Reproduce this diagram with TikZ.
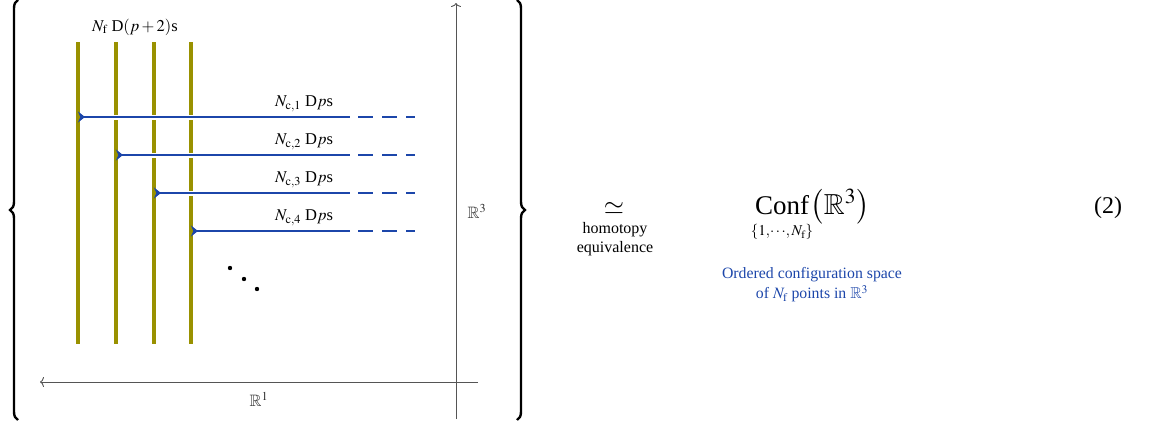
\documentclass[tikz,border=0pt]{standalone}
\usepackage{mathptmx}
\usepackage{amssymb}
\usepackage{fontspec}
\setmainfont{Liberation Serif}
\usetikzlibrary{arrows.meta,decorations.pathreplacing}
\definecolor{braneolive}{RGB}{153,145,0}
\definecolor{cblue}{RGB}{28,70,170}
\definecolor{axisgray}{RGB}{85,85,85}
\definecolor{labelgray}{RGB}{50,50,50}
\tikzset{
  bigbrace/.style={decorate,decoration={brace,amplitude=8pt},line width=2.4pt,black},
  axisline/.style={draw=axisgray,line width=0.9pt},
  branestyle/.style={draw=braneolive,line width=4pt},
  stringstyle/.style={draw=cblue,line width=1.8pt},
  stringgap/.style={draw=white,line width=5pt},
  stringdash/.style={draw=cblue,line width=1.8pt,dash pattern=on 15pt off 9pt},
  smalltext/.style={font=\fontsize{16.5}{19}\selectfont,inner sep=0pt},
  bigtext/.style={font=\fontsize{27}{32}\selectfont,inner sep=0pt},
}
\begin{document}
\begin{tikzpicture}[x=1pt,y=-1pt]
\useasboundingbox (0,0) rectangle (1149,423);
% braces
\coordinate (lbB) at (18,420);
\coordinate (lbT) at (18,0);
\coordinate (rbT) at (517,0);
\coordinate (rbB) at (517,420);
\draw[bigbrace] (lbB) -- (lbT);
\draw[bigbrace] (rbT) -- (rbB);
% axes
\coordinate (vaB) at (456,419);
\coordinate (vaT) at (456,3);
\coordinate (haR) at (478,382);
\coordinate (haL) at (40,382);
\draw[axisline,-{To[length=4pt,width=10pt]}] (vaB) -- (vaT);
\draw[axisline,-{To[length=4pt,width=10pt]}] (haR) -- (haL);
\node[smalltext,text=labelgray] (rthree) at (477,211) {$\mathbb{R}^3$};
\node[smalltext,text=labelgray] (rone) at (259,399) {$\mathbb{R}^1$};
% branes
\foreach \i/\x in {1/78,2/116,3/154,4/191}{
  \coordinate (bT\i) at (\x,42);
  \coordinate (bB\i) at (\x,344);
  \draw[branestyle] (bT\i) -- (bB\i);
}
\node[smalltext] (nf) at (135,27) {$N_{\mathrm{f}}$ D$(p+2)$s};
% strings
\foreach \i/\x/\y in {1/78/117,2/116/155,3/154/193,4/191/231}{
  \coordinate (sA\i) at (\x,\y);
  \coordinate (sG\i) at (\x+4,\y);
  \coordinate (sE\i) at (350,\y);
  \coordinate (sD\i) at (358,\y);
  \coordinate (sF\i) at (415,\y);
  \draw[stringgap] (sG\i) -- (sE\i);
  \draw[stringstyle,{Stealth[reversed,length=7pt,width=11pt]}-] (sA\i) -- (sE\i);
  \draw[stringdash] (sD\i) -- (sF\i);
  \node[smalltext] (lab\i) at (304,\y-13) {$N_{\mathrm{c},\i}$ D$p$s};
}
% dots
\fill (230,268) circle (2.2);
\fill (244,279) circle (2.2);
\fill (257,289) circle (2.2);
% right side
\node[font=\fontsize{26}{30}\selectfont,inner sep=0pt] (simeq) at (614,208) {$\simeq$};
\node[font=\fontsize{16}{19}\selectfont,align=center,inner sep=0pt] (homot) at (615,239) {homotopy\\equivalence};
\node[bigtext] (conf) at (782,205) {Conf};
\node[font=\fontsize{15}{18}\selectfont,inner sep=0pt] (confsub) at (782,232) {$\{1,\!\cdots\!,N_{\mathrm{f}}\}$};
\node[font=\fontsize{29}{34}\selectfont,inner sep=0pt] (confarg) at (840,207) {$\bigl(\mathbb{R}^3\bigr)$};
\node[font=\fontsize{24}{28}\selectfont,inner sep=0pt] (eqno) at (1108,208) {(2)};
\node[font=\fontsize{15.8}{20}\selectfont,align=center,text=cblue,inner sep=0pt] (desc) at (812,285) {Ordered configuration space\\of $N_{\mathrm{f}}$ points in $\mathbb{R}^3$};
\end{tikzpicture}
\end{document}
